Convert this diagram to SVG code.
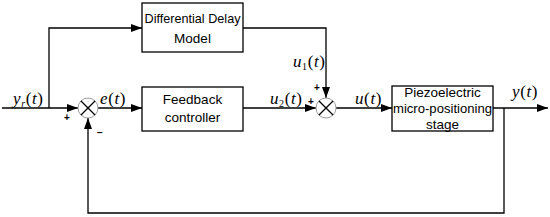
<svg xmlns="http://www.w3.org/2000/svg" width="550" height="217" viewBox="0 0 550 217">
<defs>
<marker id="ah" markerWidth="11" markerHeight="8" refX="11" refY="4" orient="auto" markerUnits="userSpaceOnUse">
<path d="M0,0 L11,4 L0,8 Z" fill="#000"/>
</marker>
<style>
.ln{fill:none;stroke:#000;stroke-width:1.3}
.box{fill:#fff;stroke:#000;stroke-width:1.3}
.sum{fill:#fff;stroke:#9a9a9a;stroke-width:1}
.x{stroke:#000;stroke-width:1.3}
.bt{font-family:"Liberation Sans",Arial,sans-serif;font-size:13.5px;fill:#000;text-anchor:middle}
.m{font-family:"Liberation Serif","Times New Roman",serif;font-size:17px;font-style:italic;fill:#000;letter-spacing:0.6px}
.s{font-size:10px;font-style:normal}
.si{font-size:10px;font-style:italic}
.pm{font-family:"Liberation Sans",Arial,sans-serif;font-size:10px;font-weight:bold;fill:#000;text-anchor:middle}
</style>
</defs>
<rect width="550" height="217" fill="#fff"/>
<g id="connectors">
<path class="ln" d="M2,108 H78" marker-end="url(#ah)"/>
<path class="ln" d="M49,108 V28 H142" marker-end="url(#ah)"/>
<path class="ln" d="M243,28 H326 V98" marker-end="url(#ah)"/>
<path class="ln" d="M98,108 H142" marker-end="url(#ah)"/>
<path class="ln" d="M243,108 H316" marker-end="url(#ah)"/>
<path class="ln" d="M336,108 H392" marker-end="url(#ah)"/>
<path class="ln" d="M493,108 H548" marker-end="url(#ah)"/>
<path class="ln" d="M504,108 V213 H88 V118" marker-end="url(#ah)"/>
</g>
<g id="sum1">
<circle class="sum" cx="88" cy="108" r="10"/>
<path class="x" d="M81,101 L95,115 M95,101 L81,115"/>
</g>
<g id="sum2">
<circle class="sum" cx="326" cy="108" r="10"/>
<path class="x" d="M319,101 L333,115 M333,101 L319,115"/>
</g>
<g id="ddm">
<rect class="box" x="142" y="3" width="101" height="49"/>
<text class="bt" x="192.5" y="23" textLength="96" lengthAdjust="spacingAndGlyphs">Differential Delay</text>
<text class="bt" x="192.5" y="43">Model</text>
</g>
<g id="fbc">
<rect class="box" x="142" y="87" width="101" height="44"/>
<text class="bt" x="192.5" y="104">Feedback</text>
<text class="bt" x="192.5" y="122">controller</text>
</g>
<g id="piezo">
<rect class="box" x="392" y="86" width="101" height="45"/>
<text class="bt" x="442.5" y="97">Piezoelectric</text>
<text class="bt" x="442.5" y="113" textLength="99" lengthAdjust="spacingAndGlyphs">micro-positioning</text>
<text class="bt" x="442.5" y="129">stage</text>
</g>
<g id="labels">
<text class="m" x="13" y="104">y<tspan class="si" dy="3">r</tspan><tspan dy="-3" font-style="normal">(</tspan>t<tspan font-style="normal">)</tspan></text>
<text class="m" x="100" y="104">e<tspan font-style="normal">(</tspan>t<tspan font-style="normal">)</tspan></text>
<text class="m" x="293" y="67">u<tspan class="s" dy="3">1</tspan><tspan dy="-3" font-style="normal">(</tspan>t<tspan font-style="normal">)</tspan></text>
<text class="m" x="270" y="104">u<tspan class="s" dy="3">2</tspan><tspan dy="-3" font-style="normal">(</tspan>t<tspan font-style="normal">)</tspan></text>
<text class="m" x="355" y="104">u<tspan font-style="normal">(</tspan>t<tspan font-style="normal">)</tspan></text>
<text class="m" x="512" y="97">y<tspan font-style="normal">(</tspan>t<tspan font-style="normal">)</tspan></text>
<text class="pm" x="67" y="121">+</text>
<text class="pm" x="311" y="105">+</text>
<text class="pm" x="317" y="91">+</text>
<text class="pm" x="100" y="136">−</text>
</g>
</svg>
